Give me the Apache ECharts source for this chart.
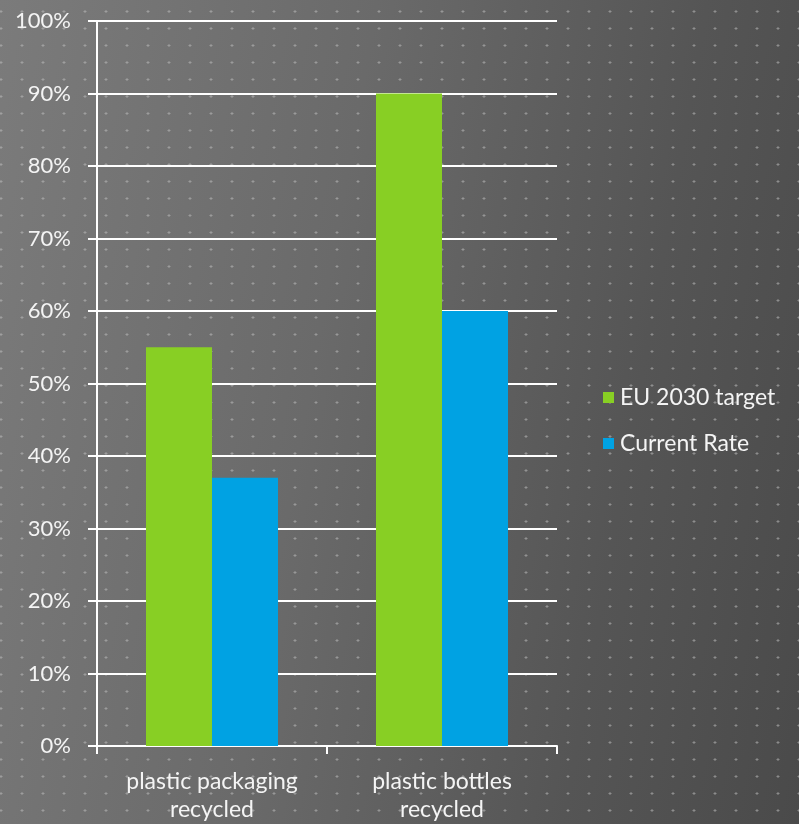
<!DOCTYPE html>
<html>
<head>
<meta charset="utf-8">
<script src="https://cdn.jsdelivr.net/npm/echarts@6/dist/echarts.min.js"></script>
<style>
  html, body { margin: 0; padding: 0; }
  #chart {
    width: 799px; height: 824px;
    background-color: #646464;
    background-image:
      radial-gradient(circle, rgba(190,190,190,0.55) 1px, transparent 1.4px),
      linear-gradient(100deg, #7b7b7b 0%, #6a6a6a 40%, #555555 75%, #4a4a4a 100%);
    background-size: 21px 17px, 100% 100%;
    background-position: -9.5px 3px, 0 0;
  }
</style>
</head>
<body>
<div id="chart"></div>
<script>
  // 数据
  var categories = ["plastic packaging\nrecycled", "plastic bottles\nrecycled"];
  var seriesNames = ["EU 2030 target", "Current Rate"];
  var euTarget = [55, 90];
  var currentRate = [37, 60];
  var colors = ["#88cf24", "#00a2e3"];

  var chart = echarts.init(document.getElementById("chart"));
  var fontFamily = "Lato, 'Open Sans', sans-serif";
  var option = {
    backgroundColor: "transparent",
    textStyle: { fontFamily: fontFamily },
    grid: { left: 97, right: 242, top: 21, bottom: 78 },
    legend: {
      orient: "vertical",
      left: 598,
      top: 381,
      itemWidth: 11,
      itemHeight: 11,
      itemGap: 23,
      icon: "rect",
      textStyle: { color: "#f4f4f4", fontSize: 23, lineHeight: 22, fontFamily: fontFamily, padding: [0, 0, 0, 1] },
      data: seriesNames
    },
    xAxis: {
      type: "category",
      data: categories,
      axisLine: { lineStyle: { color: "#ffffff", width: 2 } },
      axisTick: { show: true, length: 8, lineStyle: { color: "#ffffff", width: 2 } },
      axisLabel: { color: "#f4f4f4", fontSize: 23, lineHeight: 28, margin: 22, fontFamily: fontFamily }
    },
    yAxis: {
      type: "value",
      min: 0,
      max: 100,
      interval: 10,
      axisLine: { show: true, lineStyle: { color: "#ffffff", width: 2 } },
      axisTick: { show: true, length: 9, lineStyle: { color: "#ffffff", width: 2 } },
      splitLine: { show: true, lineStyle: { color: "#ffffff", width: 2 } },
      axisLabel: {
        color: "#f4f4f4", fontSize: 22, margin: 26, fontFamily: fontFamily,
        formatter: function (v) { return v + "%"; }
      }
    },
    series: [
      {
        name: seriesNames[0],
        type: "bar",
        barGap: "0%",
        barCategoryGap: "42.6%",
        itemStyle: { color: colors[0] },
        data: euTarget
      },
      {
        name: seriesNames[1],
        type: "bar",
        barGap: "0%",
        barCategoryGap: "42.6%",
        itemStyle: { color: colors[1] },
        data: currentRate
      }
    ]
  };
  chart.setOption(option);
</script>
</body>
</html>
